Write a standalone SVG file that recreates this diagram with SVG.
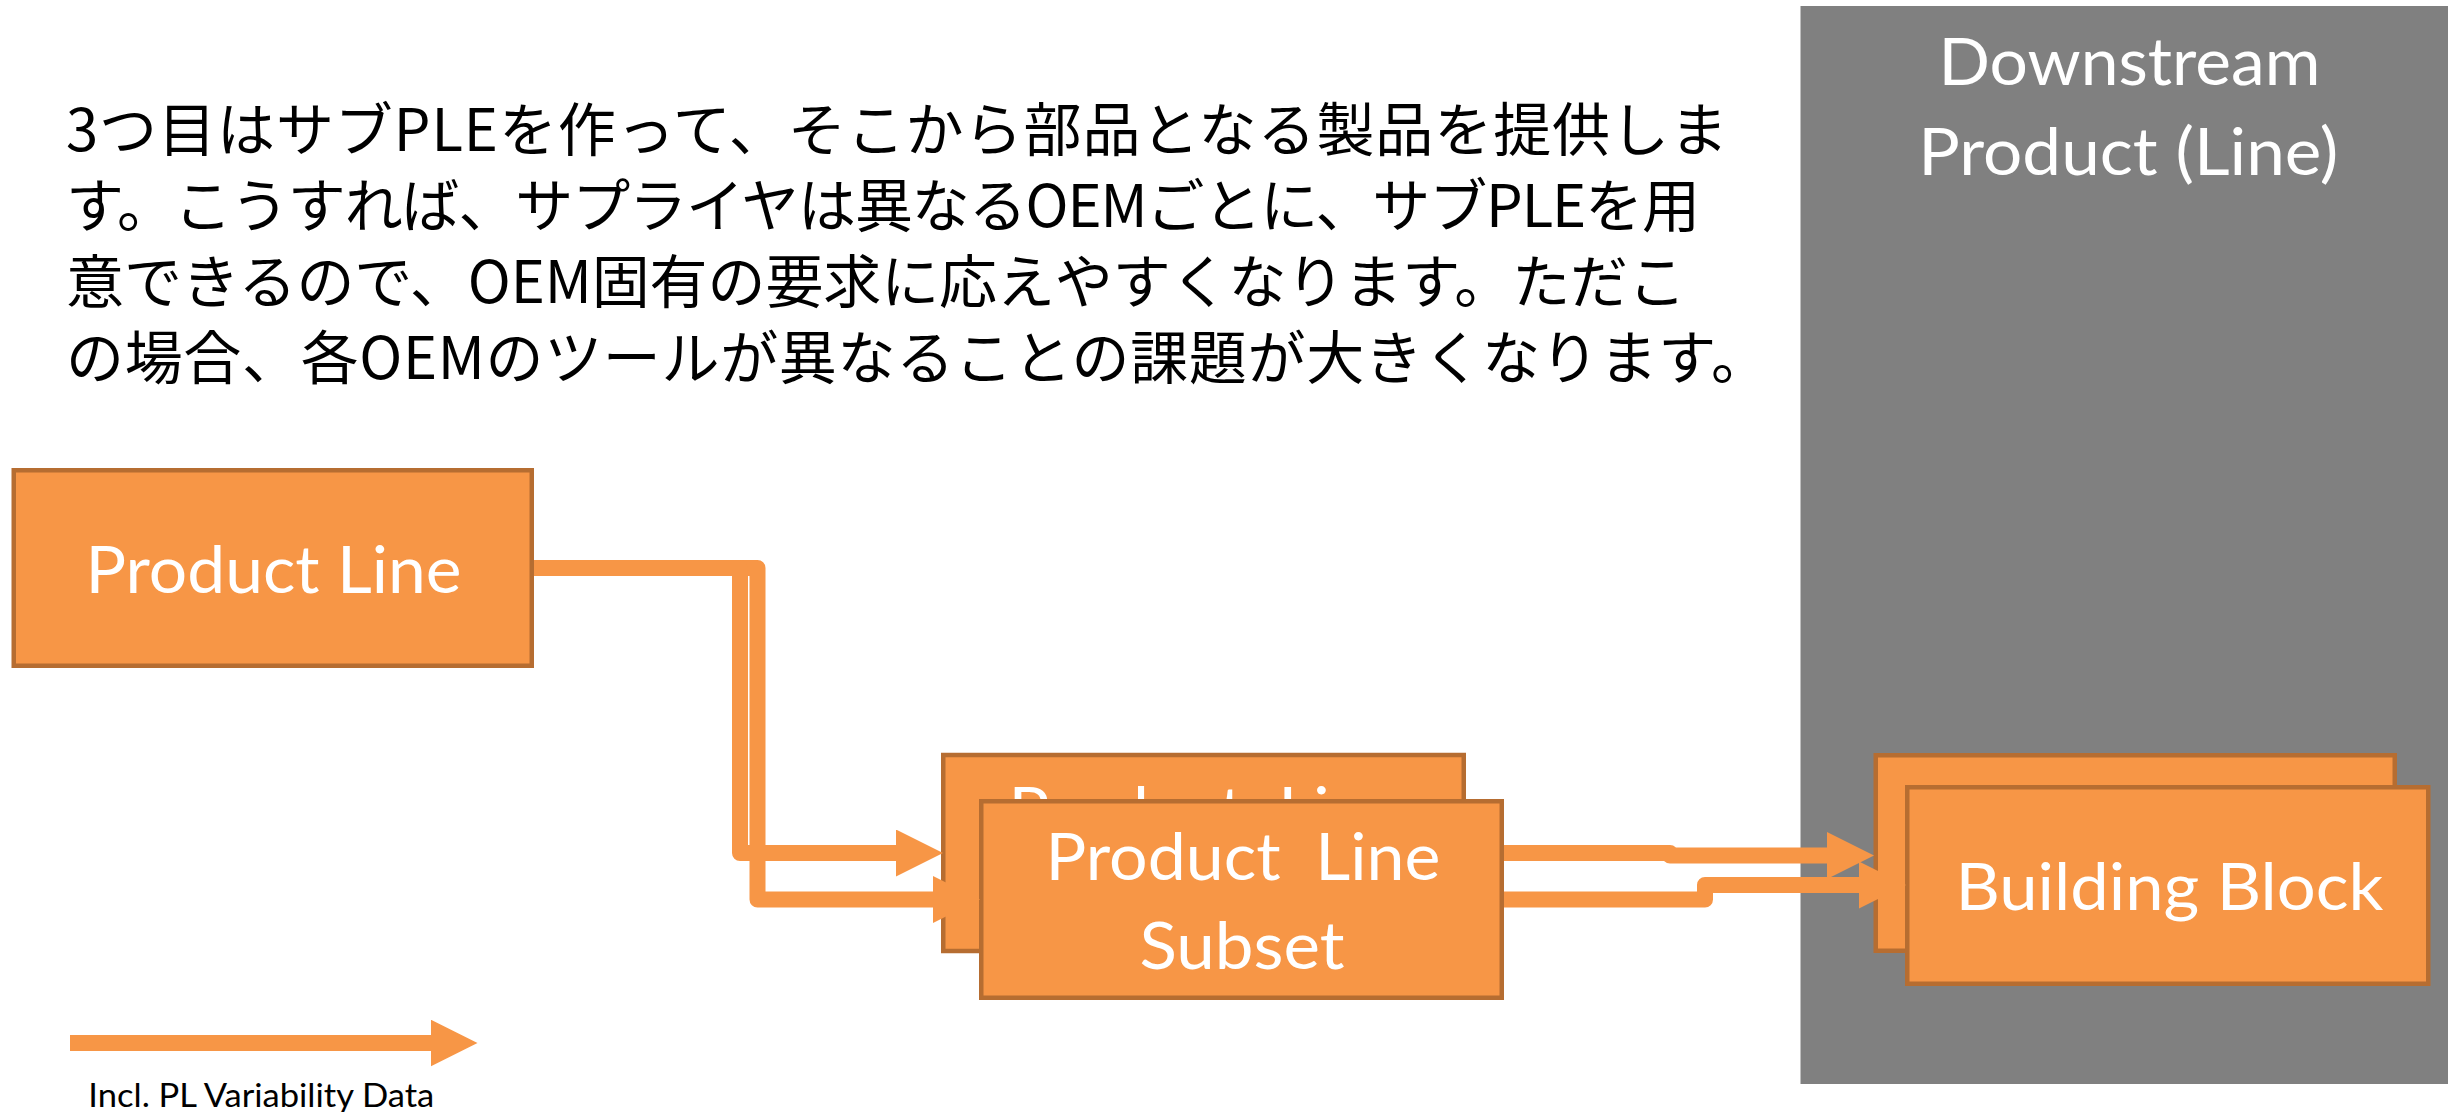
<svg xmlns="http://www.w3.org/2000/svg" width="2448" height="1112" viewBox="0 0 2448 1112">
<defs>
<style>
.box{fill:#F79646;stroke:#B66D31;stroke-width:4.5}
.lbl{font-family:Lato,"Liberation Sans",sans-serif;font-size:65px;fill:#FFFFFF;text-anchor:middle;white-space:pre}
.jp{font-family:"Noto Sans CJK JP","Noto Sans CJK SC",sans-serif;font-size:58px;fill:#000000}
.conn{fill:none;stroke:#F79646;stroke-width:16;stroke-linejoin:round;marker-end:url(#head)}
.legend{font-family:Lato,"Liberation Sans",sans-serif;font-size:33.5px;fill:#000000;text-anchor:middle}
</style>
<marker id="head" markerUnits="userSpaceOnUse" viewBox="0 0 47 47" refX="1" refY="23.5" markerWidth="47" markerHeight="47" orient="auto"><path d="M0,0 L47,23.5 L0,47 Z" fill="#F79646"/></marker>
</defs>
<rect width="2448" height="1112" fill="#FFFFFF"/>

<g id="downstream-panel">
<rect x="1800.5" y="6" width="660" height="1078" fill="#808080"/>
<text class="lbl" x="2129.5" y="85" textLength="382" lengthAdjust="spacingAndGlyphs">Downstream</text>
<text class="lbl" x="2128.3" y="175" textLength="420" lengthAdjust="spacingAndGlyphs">Product (Line)</text>
</g>

<g id="description">
<text class="jp" x="66" y="151" textLength="1662" lengthAdjust="spacing">3つ目はサブPLEを作って、そこから部品となる製品を提供しま</text>
<text class="jp" x="66" y="227" textLength="1634" lengthAdjust="spacing">す。こうすれば、サプライヤは異なるOEMごとに、サブPLEを用</text>
<text class="jp" x="66" y="303" textLength="1620" lengthAdjust="spacing">意できるので、OEM固有の要求に応えやすくなります。ただこ</text>
<text class="jp" x="66" y="379" textLength="1703" lengthAdjust="spacing">の場合、各OEMのツールが異なることの課題が大きくなります。</text>
</g>

<g id="product-line">
<rect class="box" x="13.75" y="470.25" width="518" height="195.5"/>
<text class="lbl" x="273.5" y="593" textLength="376" lengthAdjust="spacingAndGlyphs">Product Line</text>
</g>

<g id="subset-back">
<rect class="box" x="943.25" y="755" width="520.5" height="196"/>
<text class="lbl" x="1206" y="834" textLength="395" lengthAdjust="spacingAndGlyphs">Product  Line</text>
</g>

<g id="subset-front">
<rect class="box" x="981.25" y="801.25" width="520.5" height="196.5"/>
<text class="lbl" x="1243" y="880" textLength="395" lengthAdjust="spacingAndGlyphs">Product  Line</text>
<text class="lbl" x="1242" y="969" textLength="205" lengthAdjust="spacingAndGlyphs">Subset</text>
</g>

<g id="building-block-back">
<rect class="box" x="1875.75" y="755.25" width="519" height="195.5"/>
</g>

<g id="building-block-front">
<rect class="box" x="1907.25" y="787.25" width="521" height="196.5"/>
<text class="lbl" x="2169.5" y="910" textLength="428" lengthAdjust="spacingAndGlyphs">Building Block</text>
</g>

<g id="connectors">
<path class="conn" d="M534,568 H757.5 V899.5 H934"/>
<path class="conn" d="M534,568 H740 V853 H897"/>
<path class="conn" d="M1504,853 H1670 V855.5 H1828"/>
<path class="conn" d="M1504,899.5 H1705 V885 H1860"/>
</g>

<g id="legend">
<path class="conn" d="M70,1043 H431.5"/>
<text class="legend" x="261.3" y="1107" textLength="346" lengthAdjust="spacingAndGlyphs">Incl. PL Variability Data</text>
</g>
</svg>
